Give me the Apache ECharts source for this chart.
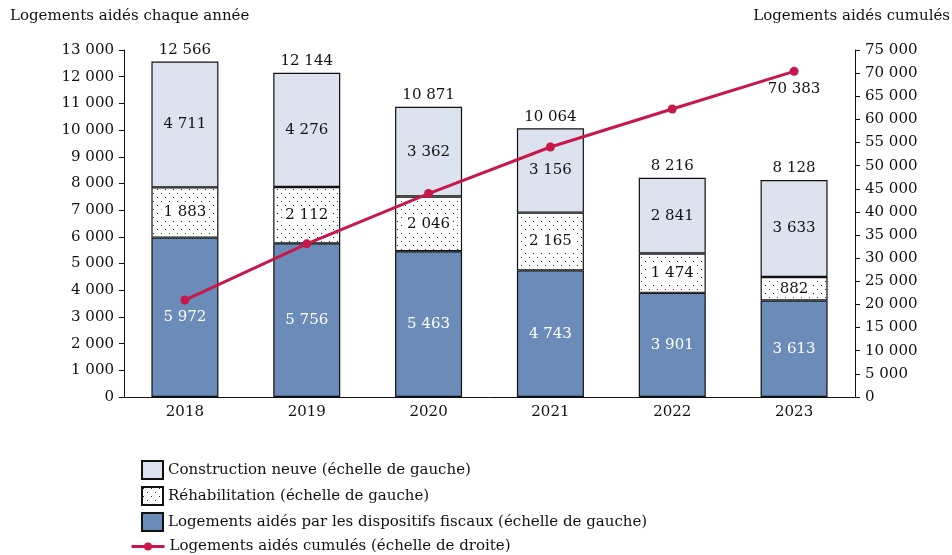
<!DOCTYPE html>
<html>
<head>
<meta charset="utf-8">
<script src="https://cdn.jsdelivr.net/npm/echarts@6/dist/echarts.min.js"></script>
<style>
  html, body { margin: 0; padding: 0; background: #fff; }
  #chart { width: 952px; height: 555px; }
</style>
</head>
<body>
<div id="chart"></div>
<script>
// données
const years = ["2018", "2019", "2020", "2021", "2022", "2023"];
const fiscal = [5972, 5756, 5463, 4743, 3901, 3613];
const rehab = [1883, 2112, 2046, 2165, 1474, 882];
const construction = [4711, 4276, 3362, 3156, 2841, 3633];
const totals = [12566, 12144, 10871, 10064, 8216, 8128];
const cumul = [20960, 33104, 43975, 54039, 62255, 70383];

const FONT = "DejaVu Serif";
const fmt = (v) => String(v).replace(/\B(?=(\d{3})+(?!\d))/g, " ");

// motif pointillé pour la réhabilitation
function dotPattern() {
  const c = document.createElement("canvas");
  c.width = 8;
  c.height = 8;
  const ctx = c.getContext("2d");
  ctx.fillStyle = "#fff";
  ctx.fillRect(0, 0, 8, 8);
  ctx.fillStyle = "#222";
  ctx.fillRect(1, 1, 1, 1);
  ctx.fillRect(5, 5, 1, 1);
  return { image: c, repeat: "repeat" };
}

const chart = echarts.init(document.getElementById("chart"));
const lblStyle = { fontFamily: FONT, fontSize: 15, color: "#111" };
const legendText = { fontFamily: FONT, fontSize: 15, color: "#111" };

const option = {
  animation: false,
  grid: { left: 124, right: 97, top: 50, bottom: 158 },
  graphic: [
    { type: "text", left: 10, top: 9, style: { text: "Logements aidés chaque année", font: "15px " + FONT, fill: "#111" } },
    { type: "text", right: 2, top: 9, style: { text: "Logements aidés cumulés", font: "15px " + FONT, fill: "#111" } },
  ],
  legend: [
    {
      orient: "vertical",
      left: 136,
      top: 455,
      height: 90,
      itemGap: 6,
      itemWidth: 21,
      itemHeight: 18,
      icon: "rect",
      textStyle: legendText,
      data: [
        "Construction neuve (échelle de gauche)",
        "Réhabilitation (échelle de gauche)",
        "Logements aidés par les dispositifs fiscaux (échelle de gauche)",
      ],
    },
    {
      orient: "vertical",
      left: 125,
      top: 534,
      itemWidth: 33,
      itemHeight: 10,
      lineStyle: { width: 3 },
      textStyle: legendText,
      data: ["Logements aidés cumulés (échelle de droite)"],
    },
  ],
  xAxis: {
    type: "category",
    data: years,
    axisLine: { lineStyle: { color: "#111", width: 1 } },
    axisTick: { show: false },
    axisLabel: { fontFamily: FONT, fontSize: 15, color: "#111", margin: 8 },
  },
  yAxis: [
    {
      type: "value",
      min: 0,
      max: 13000,
      interval: 1000,
      splitLine: { show: false },
      axisLine: { show: true, lineStyle: { color: "#111" } },
      axisTick: { show: true, length: 5, lineStyle: { color: "#111" } },
      axisLabel: { fontFamily: FONT, fontSize: 15, color: "#111", margin: 10, formatter: fmt },
    },
    {
      type: "value",
      min: 0,
      max: 75000,
      interval: 5000,
      position: "right",
      splitLine: { show: false },
      axisLine: { show: true, lineStyle: { color: "#111" } },
      axisTick: { show: true, length: 5, lineStyle: { color: "#111" } },
      axisLabel: { fontFamily: FONT, fontSize: 15, color: "#111", margin: 10, formatter: fmt },
    },
  ],
  series: [
    {
      name: "Logements aidés par les dispositifs fiscaux (échelle de gauche)",
      type: "bar",
      stack: "t",
      barWidth: 67,
      data: fiscal,
      itemStyle: { color: "#6B8BB8", borderColor: "#111", borderWidth: 1.2 },
      label: { show: true, position: "inside", ...lblStyle, color: "#fff", formatter: (p) => fmt(p.value) },
    },
    {
      name: "Réhabilitation (échelle de gauche)",
      type: "bar",
      stack: "t",
      data: rehab,
      itemStyle: { color: dotPattern(), borderColor: "#111", borderWidth: 1.2 },
      label: { show: true, position: "inside", ...lblStyle, backgroundColor: "#fff", padding: [1, 2], formatter: (p) => fmt(p.value) },
    },
    {
      name: "Construction neuve (échelle de gauche)",
      type: "bar",
      stack: "t",
      data: construction,
      itemStyle: { color: "#DCE3EE", borderColor: "#111", borderWidth: 1.2 },
      label: { show: true, position: "inside", ...lblStyle, formatter: (p) => fmt(p.value) },
    },
    {
      name: "total",
      type: "bar",
      barGap: "-100%",
      barWidth: 67,
      z: 1,
      data: totals,
      silent: true,
      itemStyle: { color: "rgba(0,0,0,0)" },
      label: { show: true, position: "top", distance: 4, ...lblStyle, formatter: (p) => fmt(p.value) },
    },
    {
      name: "Logements aidés cumulés (échelle de droite)",
      type: "line",
      yAxisIndex: 1,
      z: 5,
      data: cumul.map((v, i) =>
        i === cumul.length - 1
          ? { value: v, label: { show: true, position: "bottom", distance: 6, ...lblStyle, formatter: (p) => fmt(p.value) } }
          : v
      ),
      symbol: "circle",
      symbolSize: 9,
      lineStyle: { color: "#C8174A", width: 3 },
      itemStyle: { color: "#C8174A" },
      label: { show: false },
    },
  ],
};
chart.setOption(option);
</script>
</body>
</html>
